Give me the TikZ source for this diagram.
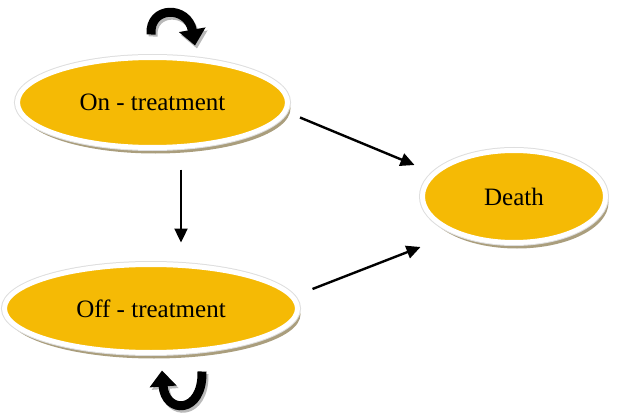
\documentclass[tikz,border=0pt]{standalone}
\usepackage{fontspec}
\setmainfont{Liberation Serif}
\usetikzlibrary{shapes.geometric,arrows.meta,calc,shadows}
\definecolor{gold}{RGB}{245,186,5}
\definecolor{shadowcol}{RGB}{170,158,125}
\definecolor{ringgray}{RGB}{222,222,222}
\begin{document}
\begin{tikzpicture}[x=1pt,y=-1pt,
  statebox/.style={ellipse, inner sep=0pt, fill=gold, draw=white, line width=5pt,
    drop shadow={shadow xshift=3pt, shadow yshift=-6pt, fill=shadowcol, opacity=1},
    preaction={draw=ringgray, line width=7pt},
    font=\fontsize{25}{28}\selectfont},
  arr/.style={line width=2.4pt, -{Triangle[length=14pt,width=13pt]}},
  loopband/.style={line width=9pt, -{Triangle[length=16pt,width=26pt]}},
  loopshadow/.style={line width=9pt, draw=gray!55, -{Triangle[length=16pt,width=26pt]}}]
\useasboundingbox (0,0) rectangle (630,420);
\node[statebox, minimum width=270pt, minimum height=90pt] (on) at (152.5,102.5) {On - treatment};
\node[statebox, minimum width=293pt, minimum height=88pt] (off) at (151,308.5) {Off - treatment};
\node[statebox, minimum width=183pt, minimum height=92pt] (death) at (514,196.5) {Death};
\draw[arr] ($(on.east)+(10,15)$) -- ($(death.west)+(-5.5,-31.5)$);
\draw[arr] ($(off.east)+(12.5,-19.5)$) -- ($(death.west)+(0.5,50.5)$);
\draw[arr] ($(on.south)+(28.5,19.5)$) -- ($(off.north)+(30,-19.5)$);
\begin{scope}[shift={(on.north)}]
  \draw[loopshadow] (0.5,-18.5) .. controls (-1.5,-46.5) and (37.5,-46.5) .. (44.5,-6.5);
  \draw[loopband] (-1.5,-20.5) .. controls (-3.5,-49.5) and (35.5,-49.5) .. (42.5,-9.5);
\end{scope}
\begin{scope}[shift={(off.south)}]
  \draw[loopshadow] (53,19) .. controls (54,62) and (16,62) .. (13,18);
  \draw[loopband] (51,16.5) .. controls (52,59.5) and (14,59.5) .. (11,15.5);
\end{scope}
\end{tikzpicture}
\end{document}
